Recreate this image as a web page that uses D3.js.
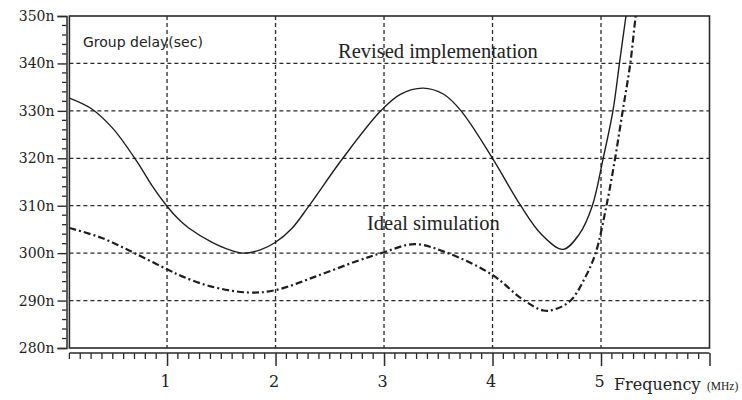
<!DOCTYPE html>
<html>
<head>
<meta charset="utf-8">
<script src="https://cdn.jsdelivr.net/npm/d3@7"></script>
<style>
  body { margin: 0; background: #fff; }
  svg { display: block; }
</style>
</head>
<body>
<div id="chart"></div>
<script>
// frequencies (MHz) and group delay (ns)
var revisedFreq  = [0.1, 0.3, 0.5, 0.72, 0.86, 1.0, 1.1, 1.2, 1.42, 1.55, 1.7, 1.86, 2.0, 2.15, 2.3, 2.62, 2.97, 3.15, 3.36, 3.55, 3.71, 4.0, 4.26, 4.45, 4.65, 4.8, 4.92, 5.02, 5.11, 5.17, 5.23, 5.27];
var revisedDelay = [332.7, 330.5, 326.3, 319.4, 314.3, 309.9, 307.3, 305.3, 302.2, 300.9, 300, 300.7, 302.3, 305.2, 309.7, 320, 330, 333.5, 334.8, 333.5, 330, 320, 310, 304, 300.8, 304, 310, 320, 330, 340, 350, 356];

var idealFreq  = [0.1, 0.4, 0.7, 1.0, 1.14, 1.4, 1.75, 2.0, 2.36, 2.76, 3.0, 3.28, 3.59, 4.0, 4.28, 4.47, 4.58, 4.72, 4.85, 4.95, 5.05, 5.13, 5.2, 5.27, 5.32, 5.36];
var idealDelay = [305.3, 303.2, 300, 296.6, 295.1, 293, 291.7, 292.2, 295, 298.4, 300.2, 301.9, 300, 295.4, 290.2, 287.9, 288.2, 290, 294.7, 300, 310, 320, 330, 340, 350, 356];

var yTicks = [280, 290, 300, 310, 320, 330, 340, 350];
var xTicks = [1, 2, 3, 4, 5];
var gridY = [290, 300, 310, 320, 330, 340];

var width = 742, height = 400;
var ink = "#2a2a2a";

var svg = d3.select("#chart").append("svg")
  .attr("width", width)
  .attr("height", height);

var x = d3.scaleLinear().domain([0.1, 6]).range([69.4, 709.5]);
var y = d3.scaleLinear().domain([280, 350]).range([348, 16]);

// clip for the curves
svg.append("clipPath").attr("id", "plotClip")
  .append("rect")
  .attr("x", x(0.1)).attr("y", y(350))
  .attr("width", x(6) - x(0.1)).attr("height", y(280) - y(350));

// dashed grid
svg.append("g").selectAll("line").data(gridY).join("line")
  .attr("x1", x(0.1)).attr("x2", x(6))
  .attr("y1", function(d) { return y(d); }).attr("y2", function(d) { return y(d); })
  .attr("stroke", ink).attr("stroke-width", 1.3).attr("stroke-dasharray", "4,3");

svg.append("g").selectAll("line").data(xTicks).join("line")
  .attr("x1", function(d) { return x(d); }).attr("x2", function(d) { return x(d); })
  .attr("y1", y(350)).attr("y2", y(280))
  .attr("stroke", ink).attr("stroke-width", 1.3).attr("stroke-dasharray", "4,3");

// frame
svg.append("rect")
  .attr("x", x(0.1)).attr("y", y(350))
  .attr("width", x(6) - x(0.1)).attr("height", y(280) - y(350))
  .attr("fill", "none").attr("stroke", ink).attr("stroke-width", 1.6);

// left axis (double line) with minor ticks every 2n
var yAxis = d3.axisLeft(y)
  .tickValues(yTicks)
  .tickSize(9)
  .tickFormat(function(d) { return d + "n"; });

var yg = svg.append("g").attr("transform", "translate(66.5,0)").call(yAxis);
yg.select(".domain").attr("stroke", ink).attr("stroke-width", 1.5);
yg.selectAll(".tick line").attr("stroke", ink).attr("stroke-width", 1.4);
yg.selectAll(".tick text")
  .attr("fill", "#222")
  .attr("x", -12)
  .style("font-family", "'DejaVu Serif', serif")
  .style("font-size", "14px");

var yMinor = d3.range(282, 350, 2).filter(function(d) { return d % 10 != 0; });
yg.append("g").selectAll("line").data(yMinor).join("line")
  .attr("x1", -4.5).attr("x2", 0)
  .attr("y1", function(d) { return y(d); }).attr("y2", function(d) { return y(d); })
  .attr("stroke", ink).attr("stroke-width", 1.3);

// bottom ruler
var xAxis = d3.axisBottom(x)
  .tickValues(xTicks.concat([6]))
  .tickSize(13)
  .tickFormat(function(d) { return d == 6 ? "" : d; });

var xg = svg.append("g").attr("transform", "translate(0,353)").call(xAxis);
xg.select(".domain").attr("d", "M" + x(0.1) + ",0H" + x(6)).attr("stroke", ink).attr("stroke-width", 1.6);
xg.selectAll(".tick line").attr("stroke", ink).attr("stroke-width", 1.5);
xg.selectAll(".tick text")
  .attr("fill", "#222")
  .attr("x", -2)
  .attr("y", 23)
  .style("font-family", "'DejaVu Serif', serif")
  .style("font-size", "16px");

var xMinor = d3.range(1, 60).map(function(i) { return i / 10; }).filter(function(d) { return Math.abs(d - Math.round(d)) > 0.01; });
xg.append("g").selectAll("line").data(xMinor).join("line")
  .attr("x1", function(d) { return x(d); }).attr("x2", function(d) { return x(d); })
  .attr("y1", 0).attr("y2", 6)
  .attr("stroke", ink).attr("stroke-width", 1.3);

// curves
var line = d3.line()
  .x(function(d) { return x(d[0]); })
  .y(function(d) { return y(d[1]); })
  .curve(d3.curveCatmullRom.alpha(0.5));

var curves = svg.append("g").attr("clip-path", "url(#plotClip)");

curves.append("path")
  .attr("d", line(d3.zip(revisedFreq, revisedDelay)))
  .attr("fill", "none").attr("stroke", "#1e1e1e").attr("stroke-width", 1.4);

curves.append("path")
  .attr("d", line(d3.zip(idealFreq, idealDelay)))
  .attr("fill", "none").attr("stroke", "#1e1e1e").attr("stroke-width", 2.2)
  .attr("stroke-dasharray", "7,3,2,3");

// texts
svg.append("text")
  .attr("x", 83).attr("y", 47)
  .attr("fill", "#222")
  .style("font-family", "'DejaVu Sans', sans-serif")
  .style("font-size", "14px")
  .text("Group delay(sec)");

svg.append("text")
  .attr("x", 338).attr("y", 58)
  .attr("fill", "#222")
  .style("font-family", "'Liberation Serif', serif")
  .style("font-size", "20.5px")
  .text("Revised implementation");

svg.append("text")
  .attr("x", 367).attr("y", 230)
  .attr("fill", "#222")
  .style("font-family", "'Liberation Serif', serif")
  .style("font-size", "20.5px")
  .text("Ideal simulation");

svg.append("text")
  .attr("x", 614).attr("y", 390)
  .attr("fill", "#222")
  .style("font-family", "'DejaVu Serif', serif")
  .style("font-size", "16px")
  .text("Frequency");

svg.append("text")
  .attr("x", 707).attr("y", 390)
  .attr("fill", "#222")
  .style("font-family", "'Liberation Serif', serif")
  .style("font-size", "11.5px")
  .text("(MHz)");
</script>
</body>
</html>
